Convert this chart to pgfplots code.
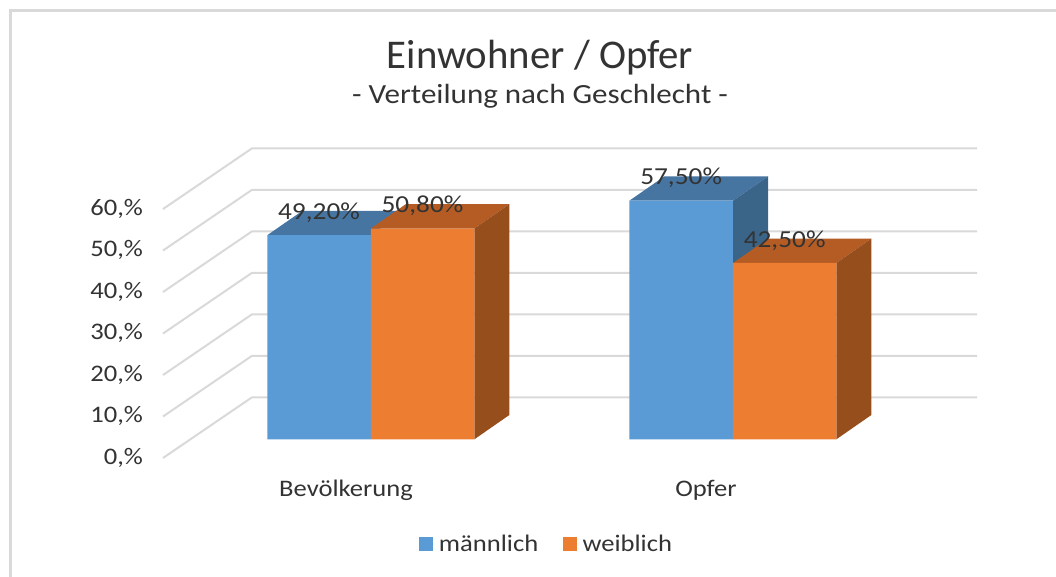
\documentclass[border=0pt]{standalone}
\usepackage{fontspec}
\setmainfont{Carlito}[FakeStretch=1.12]
\newfontfamily\titlefont{Carlito}
\usepackage{pgfplots}
\pgfplotsset{compat=1.18}
\definecolor{mblue}{HTML}{5B9BD5}
\definecolor{mbluetop}{HTML}{4775A2}
\definecolor{mblueside}{HTML}{3A6488}
\definecolor{worange}{HTML}{ED7D31}
\definecolor{worangetop}{HTML}{B45C23}
\definecolor{worangeside}{HTML}{964E1D}
\definecolor{gridgray}{HTML}{D9D9D9}
\definecolor{textgray}{HTML}{333333}
\pgfplotsset{
  % the legend image inherits the 14pt floor shift of the bars, so it is drawn lower
  squarelegend/.style={legend image code/.code={\fill[#1] (0pt,-19.25pt) rectangle (10.5pt,-8.75pt);}},
}

\begin{document}
\begin{tikzpicture}
  % page = 1056x576 px at 0.75pt per px, axis origin at px (163,458)
  \path[use as bounding box] (-122.25pt,-88.5pt) rectangle (669.75pt,343.5pt);
  \draw[gridgray,line width=2.2pt] (-114.4pt,-95pt) |- (680pt,335.6pt);

  \begin{axis}[
    scale only axis,
    width=610.5pt, height=233pt,
    xmin=163, xmax=977,
    ymin=0, ymax=74.87,
    clip=false,
    axis line style={draw=none},
    major tick length=0pt,
    font=\fontsize{17.8pt}{20pt}\selectfont\color{textgray},
    ytick={0,10,20,30,40,50,60},
    yticklabels={{0,\%},{10,\%},{20,\%},{30,\%},{40,\%},{50,\%},{60,\%}},
    yticklabel style={yshift=0.2pt,xshift=-11.5pt},
    xtick={346,706},
    xticklabels={Bevölkerung,Opfer},
    xticklabel style={yshift=-13pt},
    title={{\titlefont\fontsize{30.6pt}{34pt}\selectfont Einwohner / Opfer}\\[6.25pt]{\fontsize{20.8pt}{24pt}\selectfont - Verteilung nach Geschlecht -}},
    title style={at={(axis cs:540,90.6)},anchor=center,align=center},
    legend style={at={(axis cs:547,-20.7)},anchor=center,draw=none,fill=none,legend columns=2,
      /tikz/every odd column/.append style={column sep=2.25pt},
      /tikz/every even column/.append style={column sep=16.5pt}},
    floor/.style={yshift=14pt},
    bar width=103.5,
    bar shift=0pt,
  ]
  % side wall and back wall grid lines
  \addplot[gridgray,line width=1.5pt,forget plot] coordinates {(163,0) (252,14.63) (977,14.63)};
  \addplot[gridgray,line width=1.5pt,forget plot] coordinates {(163,10) (252,24.63) (977,24.63)};
  \addplot[gridgray,line width=1.5pt,forget plot] coordinates {(163,20) (252,34.63) (977,34.63)};
  \addplot[gridgray,line width=1.5pt,forget plot] coordinates {(163,30) (252,44.63) (977,44.63)};
  \addplot[gridgray,line width=1.5pt,forget plot] coordinates {(163,40) (252,54.63) (977,54.63)};
  \addplot[gridgray,line width=1.5pt,forget plot] coordinates {(163,50) (252,64.63) (977,64.63)};
  \addplot[gridgray,line width=1.5pt,forget plot] coordinates {(163,60) (252,74.63) (977,74.63)};

  % maennlich: top and side faces, then the front
  \addplot[floor,fill=mbluetop,draw=none,forget plot] coordinates {(267.3,49.2) (370.7,49.2) (405.7,55.06) (302.3,55.06)} -- cycle;
  \addplot[floor,fill=mbluetop,draw=none,forget plot] coordinates {(629.3,57.5) (733,57.5) (768,63.36) (664.3,63.36)} -- cycle;
  \addplot[floor,fill=mblueside,draw=none,forget plot] coordinates {(733,0) (768,5.86) (768,63.36) (733,57.5)} -- cycle;
  \addplot[ybar,floor,fill=mblue,draw=none,squarelegend=mblue] coordinates {(319,49.2) (681.15,57.5)};
  \addlegendentry{männlich}

  % weiblich
  \addplot[floor,fill=worangetop,draw=none,forget plot] coordinates {(370.7,50.8) (474.3,50.8) (509.3,56.66) (405.7,56.66)} -- cycle;
  \addplot[floor,fill=worangetop,draw=none,forget plot] coordinates {(733,42.5) (836.3,42.5) (871.3,48.36) (768,48.36)} -- cycle;
  \addplot[floor,fill=worangeside,draw=none,forget plot] coordinates {(474.3,0) (509.3,5.86) (509.3,56.66) (474.3,50.8)} -- cycle;
  \addplot[floor,fill=worangeside,draw=none,forget plot] coordinates {(836.3,0) (871.3,5.86) (871.3,48.36) (836.3,42.5)} -- cycle;
  \addplot[ybar,floor,fill=worange,draw=none,squarelegend=worange] coordinates {(422.5,50.8) (784.65,42.5)};
  \addlegendentry{weiblich}

  % data labels
  \addplot[draw=none,no marks,forget plot,
    nodes near coords={\pgfmathprintnumber[fixed,fixed zerofill,precision=2,use comma,assume math mode=true]{\pgfplotspointmeta}\%},
    every node near coord/.append style={anchor=center,yshift=31pt,inner sep=0pt,text=textgray,font=\fontsize{18.3pt}{20pt}\selectfont},
  ] coordinates {(319,49.2) (422.5,50.8) (681.15,57.5) (784.65,42.5)};
  \end{axis}
\end{tikzpicture}
\end{document}
